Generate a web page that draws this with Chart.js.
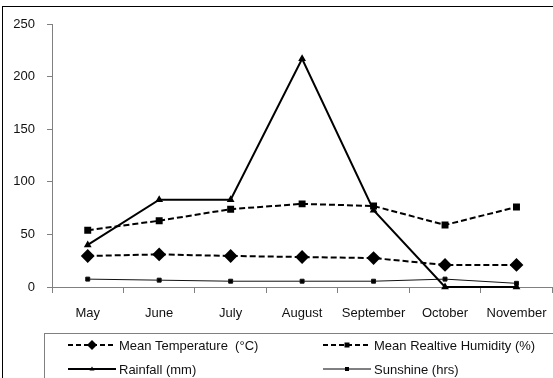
<!DOCTYPE html>
<html>
<head>
<meta charset="utf-8">
<script src="https://cdn.jsdelivr.net/npm/chart.js@4.4.0/dist/chart.umd.min.js"></script>
<style>
  html, body { margin: 0; padding: 0; background: #fff; overflow: hidden; }
  body { width: 553px; height: 378px; position: relative; font-family: "Liberation Sans", Arial, sans-serif; }
  #frame { position: absolute; left: 2px; top: 6px; width: 700px; height: 500px; border: 1px solid #000; box-sizing: border-box; }
  #wrap { position: absolute; left: 0; top: 0; width: 560px; height: 378px; }
  #legend { position: absolute; left: 44px; top: 333px; width: 700px; height: 100px; border: 1px solid #808080; box-sizing: border-box; }
  .item { position: absolute; height: 16px; display: flex; align-items: center; font-size: 13px; color: #111; white-space: pre; }
  .item svg { margin-right: 3px; }
</style>
</head>
<body>
<div id="frame"></div>
<div id="wrap"><canvas id="grafica" width="560" height="378"></canvas></div>
<div id="legend"></div>
<script>
// datos
const meses = ['May', 'June', 'July', 'August', 'September', 'October', 'November'];
const temperatura = [29.5, 31, 29.5, 28.5, 27.5, 21, 21];
const humedad = [54, 63, 74, 79, 77, 59, 76];
const lluvia = [40, 83, 83, 217, 73, 0, 0];
const sol = [7.5, 6.5, 5.5, 5.5, 5.5, 7.5, 3.5];
const ticksY = [0, 50, 100, 150, 200, 250];

const nombres = ['Mean Temperature  (°C)', 'Mean Realtive Humidity (%)', 'Rainfall (mm)', 'Sunshine (hrs)'];

const ctx = document.getElementById('grafica').getContext('2d');
const chart = new Chart(ctx, {
    type: 'line',
    data: {
        labels: meses,
        datasets: [
            { label: nombres[0], data: temperatura, borderColor: '#000', backgroundColor: '#000', borderWidth: 2, borderDash: [6, 3], pointStyle: 'rectRot', pointRadius: 5.5 },
            { label: nombres[1], data: humedad, borderColor: '#000', backgroundColor: '#000', borderWidth: 2, borderDash: [6, 3], pointStyle: 'rect', pointRadius: 3.5 },
            { label: nombres[2], data: lluvia, borderColor: '#000', backgroundColor: '#000', borderWidth: 2, pointStyle: 'triangle', pointRadius: 2.5 },
            { label: nombres[3], data: sol, borderColor: '#111', backgroundColor: '#000', borderWidth: 1, pointStyle: 'rect', pointRadius: 2.8 }
        ]
    },
    options: {
        responsive: false,
        animation: false,
        devicePixelRatio: 1,
        clip: false,
        layout: { padding: { top: 24, right: 4, left: 0, bottom: 0 } },
        plugins: { legend: { display: false }, tooltip: { enabled: false } },
        elements: { line: { tension: 0 }, point: { borderWidth: 0 } },
        scales: {
            x: {
                offset: true,
                grid: { offset: true, drawOnChartArea: false, color: '#808080', tickLength: 6 },
                border: { color: '#808080', width: 1 },
                ticks: { color: '#111', font: { family: 'Liberation Sans', size: 13 }, padding: 13, maxRotation: 0 },
                afterFit: s => { s.height = 91; }
            },
            y: {
                min: 0, max: 250,
                afterBuildTicks: s => { s.ticks = ticksY.map(v => ({ value: v })); },
                grid: { drawOnChartArea: false, color: '#808080', tickLength: 5 },
                border: { color: '#808080', width: 1 },
                ticks: { color: '#111', font: { family: 'Liberation Sans', size: 13 }, padding: 12 },
                afterFit: s => { s.width = 52; }
            }
        }
    }
});

// leyenda en HTML
function muestra(tipo) {
    let svg = '<svg width="48" height="12" viewBox="0 0 48 12">';
    if (tipo === 0 || tipo === 1) {
        svg += '<line x1="0" y1="6" x2="48" y2="6" stroke="#000" stroke-width="2" stroke-dasharray="5 3"/>';
    } else {
        svg += `<line x1="0" y1="6" x2="48" y2="6" stroke="#000" stroke-width="${tipo === 2 ? 2 : 1}"/>`;
    }
    if (tipo === 0) svg += '<polygon points="24,1 29,6 24,11 19,6" fill="#000"/>';
    if (tipo === 1) svg += '<rect x="21.5" y="3.5" width="5" height="5" fill="#000"/>';
    if (tipo === 2) svg += '<polygon points="24,3.5 26.5,7.5 21.5,7.5" fill="#000"/>';
    if (tipo === 3) svg += '<rect x="22" y="4" width="4" height="4" fill="#000"/>';
    return svg + '</svg>';
}
const posiciones = [[23, 3], [278, 3], [23, 27], [278, 27]];
const legend = document.getElementById('legend');
nombres.forEach((n, i) => {
    const d = document.createElement('div');
    d.className = 'item';
    d.style.left = posiciones[i][0] + 'px';
    d.style.top = posiciones[i][1] + 'px';
    d.innerHTML = muestra(i) + '<span>' + n + '</span>';
    legend.appendChild(d);
});
</script>
</body>
</html>
